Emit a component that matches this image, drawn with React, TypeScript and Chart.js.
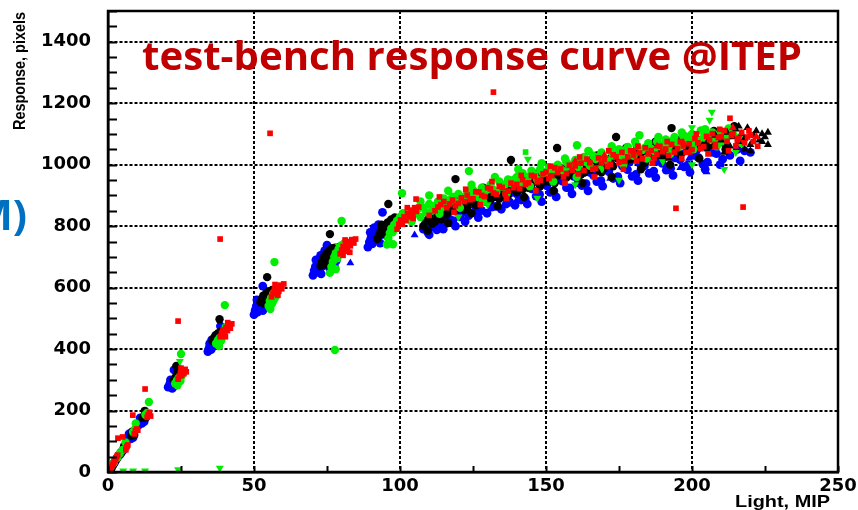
import React, { useEffect, useRef } from "react";
import { Chart, registerables } from "chart.js";

Chart.register(...registerables);

type P = [number, number];

// ---------- data (Light [MIP], Response [pixels]) ----------
const blueCircles: P[] = [
  [0.5, 6], [1.0, 12], [1.5, 20], [1.8, 25], [2.3, 32], [2.6, 38], [3.0, 44], [3.4, 50], [3.8, 54], [4.2, 58], [4.5, 64], [4.8, 66], [5.1, 70], [5.4, 74], [5.7, 80], [6.0, 82],
  [6.6, 104], [7.0, 110], [7.4, 116], [7.8, 108], [8.2, 120], [8.6, 112], [7.2, 124], [8.0, 128],
  [10.4, 152], [10.8, 160], [11.2, 168], [11.6, 158], [12.0, 172], [12.4, 164], [11.0, 176], [12.8, 176],
  [20.6, 276], [21.0, 282], [21.3, 290], [21.6, 278], [21.9, 294], [22.2, 286], [22.5, 298], [22.8, 281], [23.1, 292], [22.0, 272], [21.4, 300], [23.4, 302], [22.6, 332],
  [34.2, 392], [34.6, 402], [35.0, 412], [35.3, 398], [35.7, 420], [36.0, 408], [36.3, 428], [36.6, 415], [36.9, 432], [37.2, 420], [37.5, 440], [35.5, 430], [34.8, 418], [37.7, 412], [37.0, 445], [38.5, 475],
  [50.0, 512], [50.4, 526], [50.8, 540], [51.2, 520], [51.6, 548], [52.0, 532], [52.4, 558], [52.8, 540], [53.2, 566], [53.6, 548], [54.0, 572], [54.4, 556], [54.8, 575], [55.3, 562], [56.0, 570], [51.0, 560], [53.0, 525], [53.0, 605], [55.5, 545],
  [70.2, 640], [70.6, 655], [71.0, 668], [71.5, 650], [72.0, 675], [72.5, 660], [73.0, 690], [73.5, 670], [74.0, 698], [74.5, 680], [75.0, 700], [75.5, 685], [76.0, 695], [76.5, 678], [77.0, 690], [77.5, 672], [78.2, 688], [71.2, 690], [72.8, 705], [74.2, 720], [75.0, 738], [73.0, 645], [76.0, 662],
  [89.0, 732], [89.5, 748], [90.0, 760], [90.5, 742], [91.0, 770], [91.5, 755], [92.0, 782], [92.5, 765], [93.0, 790], [93.5, 772], [94.0, 795], [94.5, 778], [95.0, 790], [95.5, 770], [89.8, 780], [91.2, 795], [92.6, 805], [94.0, 845], [93.2, 745], [96.2, 785],
  [108, 790], [108.5, 805], [109, 812], [109.5, 780], [110, 772], [110.5, 795], [110.5, 812], [111, 801], [111.5, 820], [112, 826], [112.3, 845], [112.6, 788], [113, 840], [113.5, 815], [114, 800], [114.5, 842], [114.8, 790], [115.2, 806], [115.8, 858], [116.3, 831], [116.9, 815], [117.4, 852], [117.7, 870], [118.1, 818], [118.8, 866], [119.0, 800], [119.6, 846], [120.5, 830], [121.2, 872], [121.8, 861], [122.3, 815], [122.6, 845], [123.5, 834], [124.4, 875], [124.9, 890], [125.7, 866], [126.5, 850], [126.8, 828], [127.9, 851], [129.2, 885], [129.8, 842], [130.6, 879], [131.4, 862], [131.9, 896], [132.8, 864],
  [134.0, 898], [134.7, 855], [135.3, 896], [136.4, 872], [136.9, 920], [137.6, 878], [138.7, 910], [139.4, 868], [140.2, 904], [141.5, 885], [141.9, 930], [142.9, 889], [143.6, 872], [144.0, 925], [145.1, 921], [146.0, 945], [146.6, 898], [147.8, 903], [148.5, 880], [149.0, 940], [150.3, 931], [150.8, 955], [151.4, 910], [152.7, 914], [153.5, 895], [154.1, 955], [155.6, 946], [156.7, 968], [157.0, 925], [158.2, 924], [158.9, 905], [159.5, 962], [160.9, 953], [161.6, 980], [162.3, 932], [163.7, 938], [164.4, 915], [165.0, 975], [166.2, 966], [167.0, 990], [167.4, 945], [168.8, 948], [169.4, 930],
  [170.1, 985], [171.5, 977], [172.3, 1002], [173.0, 955], [174.6, 961], [175.4, 940], [176.2, 995], [177.9, 984], [178.7, 1010], [179.5, 962], [180.8, 968], [181.5, 948], [182.2, 1003], [183.7, 996], [184.4, 1020], [185.3, 972], [186.9, 979], [187.6, 958], [188.4, 1012], [189.8, 1004], [190.5, 1030], [191.2, 982], [192.7, 988], [193.5, 965], [194.3, 1022], [195.9, 1016], [196.6, 1040], [197.3, 993], [198.6, 999], [199.3, 975], [200.4, 1030], [201.6, 1048], [202.1, 1024], [203.7, 1002], [204.5, 985], [205.3, 1008], [206.5, 1055], [207.0, 1040], [208.4, 1036], [209.6, 1000], [210.5, 1018], [212, 1060], [213, 1030], [215.5, 1050], [216.5, 1012], [218, 1045], [220, 1040],
];

const blueTriangles: P[] = [
  [83, 680], [105, 771], [118, 820], [128.4, 845], [140, 885], [152, 907], [160, 935], [172, 955],
  [180, 965], [186, 975], [196, 990], [205, 976], [199, 1020],
];

const redSquares: P[] = [
  [0.4, 4], [0.7, 10], [0.9, 14], [1.2, 18], [1.5, 22], [1.8, 28], [2.1, 33], [2.4, 38], [2.7, 44], [3.0, 50], [3.3, 55], [6.3, 79], [6.5, 84], [6.8, 88], [6.1, 72], [3.4, 110], [5.0, 114],
  [9.0, 124], [9.4, 134], [9.8, 140], [10.2, 136], [8.5, 185],
  [13.4, 178], [13.8, 186], [14.2, 194], [14.6, 182], [12.7, 270],
  [24.0, 302], [24.4, 312], [24.8, 322], [25.2, 314], [25.6, 328], [26.0, 320], [26.4, 334], [26.8, 326], [25.0, 338], [24.0, 491],
  [38.4, 440], [38.9, 452], [39.4, 462], [39.9, 450], [40.4, 470], [40.9, 460], [41.4, 478], [41.9, 468], [42.4, 482], [40.2, 440], [41.0, 486], [38.4, 758],
  [56.0, 570], [56.5, 582], [57.0, 594], [57.5, 580], [58.0, 600], [58.5, 588], [59.0, 608], [59.5, 596], [60.2, 612], [58.2, 575], [57.2, 610], [55.5, 1102],
  [79.5, 710], [80.0, 722], [80.5, 734], [81.0, 718], [81.5, 740], [82.0, 728], [82.5, 750], [83.0, 736], [83.5, 756], [84.2, 745], [84.8, 758], [81.2, 755], [82.8, 715], [80.5, 705],
  [99.0, 790], [99.6, 806], [100.2, 820], [100.8, 806], [101.4, 830], [102.0, 818], [102.6, 842], [103.2, 830], [103.8, 852], [104.4, 840], [105.0, 860], [105.6, 848], [106.4, 862], [102.5, 860], [104.5, 825], [105.5, 888],
  [110, 835], [112, 850], [113, 862], [113.5, 895], [114, 870], [115, 880], [116, 860], [117, 872], [118, 885], [118.5, 845], [119, 866], [120, 874], [121, 892], [122, 880], [122.5, 920], [123, 901], [124, 886], [125, 889], [126, 912], [127, 911], [127.5, 870], [128, 900], [129, 896], [130, 925], [131, 921], [131.5, 945], [132, 908], [133, 904], [132, 1236],
  [134, 930], [135, 926], [136, 906], [136.5, 890], [137, 914], [138, 940], [139, 925], [140, 936], [141, 922], [141.5, 965], [142, 951], [143, 936], [144, 941], [145, 965], [146, 962], [146.5, 915], [147, 944], [148, 949], [149, 970], [150, 976], [151, 955], [151.5, 995], [152, 964], [153, 990], [154, 975], [155, 986], [156, 960], [156.5, 940], [157, 971], [158, 998], [159, 982], [160, 996], [161, 970], [161.5, 1025], [162, 1005], [163, 981], [164, 1018], [165, 1006], [166, 985], [166.5, 960], [167, 989],
  [168, 1022], [169, 1005], [170, 1016], [171, 995], [171.5, 1045], [172, 1001], [173, 1032], [174, 1026], [175, 1008], [176, 1040], [176.5, 985], [177, 1011], [178, 1025], [179, 1045], [180, 1031], [181, 1012], [181.5, 1060], [182, 1038], [183, 1019], [184, 1055], [185, 1035], [186, 1046], [186.5, 1005], [187, 1022], [188, 1034], [189, 1060], [190, 1042], [191, 1051], [191.5, 1075], [192, 1030], [193, 1066], [194, 1041], [194.5, 858], [195, 1052], [196, 1075], [196.5, 1020], [197, 1061], [198, 1040], [199, 1068], [200, 1049],
  [201, 1085], [201.5, 1100], [202, 1071], [203, 1052], [204, 1059], [205, 1092], [205.5, 1035], [206, 1081], [207, 1101], [208, 1066], [209, 1088], [209.5, 1115], [210, 1091], [211, 1111], [212, 1076], [212.5, 1045], [213, 1151], [213.5, 1095], [214, 1101], [215, 1061], [215.5, 1080], [216, 1086], [217, 1105], [217.5, 862], [218, 1071], [219, 1090], [219.5, 1110], [220, 1096], [221, 1075], [222.5, 1060],
];

const redTriangles: P[] = [
  [160, 1012], [170, 1030], [180, 1045], [188, 1060], [197, 1072], [199, 1040], [208, 1056], [214, 1120], [222, 1091],
];

const blackCircles: P[] = [
  [1.2, 12], [2.0, 27], [3.0, 42], [4.4, 62], [5.5, 84],
  [8.0, 118], [8.5, 126], [9.0, 120], [8.4, 132],
  [11.8, 176], [12.4, 182], [12.9, 178], [12.6, 199],
  [22.5, 300], [23.0, 306], [23.4, 312], [23.8, 302], [24.2, 318], [24.6, 308], [23.2, 295], [24.0, 326], [23.4, 345],
  [35.8, 426], [36.3, 436], [36.8, 444], [37.3, 432], [37.8, 452], [38.3, 440], [38.8, 458], [37.0, 424], [39.0, 447], [38.2, 497],
  [52.2, 552], [52.7, 564], [53.2, 574], [53.7, 560], [54.2, 582], [54.7, 570], [55.2, 588], [55.7, 576], [56.2, 592], [57.0, 584], [54.5, 634], [53.5, 548],
  [72.8, 670], [73.3, 684], [73.8, 698], [74.3, 690], [74.8, 710], [75.3, 700], [75.8, 720], [76.3, 708], [76.8, 728], [77.3, 715], [77.8, 730], [78.5, 722], [79.2, 732], [76.0, 774], [74.5, 675], [77.0, 700],
  [92.2, 758], [92.8, 770], [93.4, 784], [94.0, 776], [94.6, 800], [95.2, 790], [95.8, 812], [96.4, 800], [97.0, 822], [97.6, 810], [98.2, 828], [98.8, 815], [96.0, 872], [93.7, 805], [95.5, 768],
  [108, 800], [109, 818], [109.5, 785], [110, 830], [111, 808], [112, 815], [112.5, 860], [113, 835], [114, 822], [115, 846], [116, 838], [116.5, 810], [117, 865], [118, 850], [119, 953], [120, 858], [120.5, 895], [121, 871], [122, 852], [123, 860], [124, 880], [124.5, 842], [125, 886], [126, 868], [127, 874], [128, 892], [128.5, 925], [129, 880], [130, 896], [131, 884], [132, 906], [133, 895], [133.5, 865], [134, 889], [135, 912], [136, 916], [137, 900], [137.5, 948], [138, 1015], [138.5, 925], [139, 921], [140, 910],
  [141, 936], [142, 920], [142.5, 895], [143, 945], [144, 926], [145, 938], [146, 955], [147, 946], [147.5, 975], [148, 930], [149, 961], [150, 950], [151, 970], [152, 951], [152.5, 915], [153, 940], [153.8, 1054], [154, 965], [155, 971], [156, 985], [157, 958], [157.5, 1000], [158, 966], [159, 978], [160, 992], [161, 986], [162, 968], [162.5, 940], [163, 974], [164, 995], [165, 984], [166, 1001], [167, 1012], [167.5, 1030], [168, 989], [169, 975], [170, 1000],
  [171, 1011], [172, 1020], [172.5, 960], [173, 995], [174, 1090], [174.5, 1021], [175, 1035], [176, 1012], [177, 1006], [177.5, 1055], [178, 1028], [179, 1018], [180, 1036], [181, 1045], [182, 1019], [182.5, 985], [183, 1032], [184, 1008], [185, 1046], [186, 1030], [187, 1055], [187.5, 1075], [188, 1031], [189, 1042], [190, 1020], [191, 1056], [192, 1044], [192.5, 1000], [193, 1119], [194, 1060], [195, 1044], [196, 1032], [197, 1070], [197.5, 1092], [198, 1066], [199, 1050], [200, 1062],
  [201, 1054], [202, 1080], [202.5, 1020], [203, 1065], [204, 1076], [205, 1055], [206, 1090], [207, 1064], [207.5, 1110], [208, 1075], [209, 1098], [210, 1086], [211, 1070], [211.5, 1050], [212, 1092], [214.5, 1125],
];

const blackSquares: P[] = [
  [117, 880], [125, 900], [140, 930], [145, 955], [155, 990], [160, 1001], [165, 1015], [170, 985],
  [178, 1040], [185, 1030], [190, 1065], [196, 1085], [200, 1080],
];

const blackTriangles: P[] = [
  [150, 940], [168, 975], [183, 1000], [192, 1020],
  [205, 1070], [208, 1095], [210, 1080], [211, 1040], [212, 1105], [213, 1060], [214, 1090], [215, 1115], [216, 1075],
  [216, 1125], [217, 1100], [218, 1085], [218, 1050], [219, 1120], [220, 1065], [220, 1045], [221, 1095], [222, 1110],
  [223, 1080], [224, 1100], [224, 1075], [225, 1090], [226, 1105], [226, 1065],
];

const greenCircles: P[] = [
  [1.0, 18], [2.0, 30], [3.2, 46], [4.0, 60], [5.0, 72], [6.0, 96],
  [8.6, 130], [9.3, 140], [9.5, 158],
  [12.8, 186], [13.4, 192], [14.0, 228],
  [23.0, 288], [23.6, 298], [24.2, 306], [24.8, 296], [25.2, 312], [23.8, 282], [25.0, 384],
  [37.0, 418], [37.6, 428], [38.2, 436], [38.8, 428], [39.2, 444], [39.6, 454], [38.0, 410], [40.3, 471], [40.0, 543],
  [55.0, 540], [55.4, 556], [55.8, 566], [56.2, 548], [56.6, 580], [57.0, 570], [57.4, 590], [55.6, 530], [57.0, 683],
  [76.0, 648], [76.5, 668], [77.0, 684], [77.5, 700], [78.0, 712], [78.5, 695], [79.0, 726], [79.5, 710], [80.0, 738], [80.5, 724], [81.0, 745], [78.0, 660], [80.0, 817], [77.7, 397],
  [95.5, 740], [96.0, 760], [96.5, 778], [97.0, 792], [97.5, 780], [98.0, 805], [98.5, 795], [99.0, 818], [99.5, 808], [100.0, 830], [100.5, 820], [101.0, 842], [97.6, 741], [100.7, 907],
  [104, 815], [105, 840], [106, 855], [107, 830], [107, 880], [108, 860], [109, 845], [110, 872], [110, 900], [111, 851], [112, 866], [113, 880], [113.5, 840], [114, 858], [115, 890], [116, 870], [116.5, 915], [117, 884], [118, 896], [119, 878], [120, 905], [120.5, 860], [121, 884], [122, 895], [123, 912], [123.6, 979], [124, 905], [124.5, 935], [125, 918], [126, 900], [127, 894], [128, 925], [128.5, 880], [129, 912], [130, 921], [131, 935], [132, 918], [132.5, 960], [133, 911], [134, 945],
  [135, 930], [136, 936], [136.5, 905], [137, 952], [138, 940], [139, 951], [140, 960], [140.5, 985], [141, 939], [142, 972], [143, 955], [144, 961], [144.5, 930], [145, 980], [146, 968], [147, 951], [148, 985], [148.5, 1005], [149, 972], [150, 976], [151, 992], [152, 980], [152.5, 945], [153, 991], [154, 1000], [155, 985], [156, 979], [156.5, 1020], [157, 1008], [158, 995], [159, 1001], [160, 1015], [160.5, 960], [160.6, 1063], [161, 992], [162, 1011], [163, 1025], [164, 1008], [164.5, 1045], [165, 996],
  [166, 1030], [167, 1018], [168, 1026], [168.5, 985], [169, 1040], [170, 1022], [171, 1014], [172, 1045], [172.5, 1060], [173, 1030], [174, 1036], [175, 1050], [176, 1028], [176.5, 1000], [177, 1046], [178, 1058], [179, 1040], [180, 1029], [180.5, 1075], [181, 1062], [182, 1096], [183, 1048], [184, 1056], [184.5, 1020], [185, 1070], [186, 1052], [187, 1044], [188, 1075], [188.5, 1090], [189, 1060], [190, 1066], [191, 1082], [192, 1058], [192.5, 1035], [193, 1076], [194, 1090], [195, 1070],
  [196, 1059], [196.5, 1105], [197, 1092], [198, 1078], [199, 1086], [200, 1100], [200.5, 1050], [201, 1072], [202, 1079], [203, 1111], [204, 1088], [204.5, 1115], [205, 1096], [206, 1080], [207, 1105], [208, 1084], [208.5, 1060], [209, 1098], [210, 1075], [211, 1106], [212, 1090], [212.5, 1118], [214, 1100], [216, 1088], [217, 1070],
];

const greenDownTriangles: P[] = [
  [5.2, 4], [8.6, 4], [12.7, 4], [24.0, 8], [38.3, 13], [24.6, 360], [57.5, 560], [79, 735],
  [120, 830], [130, 870], [143.8, 1018], [147, 891], [160, 935], [175, 950], [190, 1010], [200, 1000],
  [200, 1121], [206, 1145], [206.8, 1171], [211, 985], [215, 1040],
];

const greenSquares: P[] = [
  [135, 925], [143, 1041], [165, 1040], [185, 1070], [198, 1095],
];

const xMin = 0, xMax = 250, xStep = 25, xLabelEvery = 50;
const yMin = 0, yMax = 1500, yStep = 50, yLabelEvery = 200;

const chartTitle = "test-bench response curve @ITEP";
const sideFragment = "M)";
const xTitle = "Light, MIP";
const yTitle = "Response, pixels";

const toXY = (pts: P[]) => pts.map(([x, y]) => ({ x, y }));

function fitText(ctx: CanvasRenderingContext2D, text: string, width: number) {
  const w = ctx.measureText(text).width;
  ctx.scale(width / w, 1);
}

const overlayPlugin = {
  id: "overlay",
  afterDraw(chart: any) {
    const { ctx, chartArea: a, scales } = chart;
    ctx.save();
    // inward ticks (ROOT style)
    ctx.strokeStyle = "#000";
    ctx.lineWidth = 2;
    ctx.beginPath();
    for (const t of scales.y.ticks) {
      const py = Math.round(scales.y.getPixelForValue(t.value)) + 0.5;
      ctx.moveTo(a.left, py);
      ctx.lineTo(a.left + 9, py);
    }
    for (const t of scales.x.ticks) {
      const px = Math.round(scales.x.getPixelForValue(t.value)) + 0.5;
      ctx.moveTo(px, a.bottom);
      ctx.lineTo(px, a.bottom - 6);
    }
    ctx.stroke();
    // frame
    ctx.lineWidth = 2.5;
    ctx.strokeRect(a.left, a.top, a.right - a.left, a.bottom - a.top);

    // axis titles
    ctx.fillStyle = "#000";
    ctx.textBaseline = "alphabetic";
    ctx.font = "bold 17px 'Liberation Sans'";
    ctx.save();
    ctx.translate(830, 507);
    ctx.textAlign = "right";
    fitText(ctx, xTitle, 95);
    ctx.fillText(xTitle, 0, 0);
    ctx.restore();

    ctx.font = "bold 16.5px 'Liberation Sans'";
    ctx.save();
    ctx.translate(25, 12);
    ctx.rotate(-Math.PI / 2);
    ctx.textAlign = "right";
    fitText(ctx, yTitle, 118);
    ctx.fillText(yTitle, 0, 0);
    ctx.restore();

    // red title
    ctx.font = "bold 40px 'Open Sans'";
    ctx.fillStyle = "#C00000";
    ctx.textAlign = "left";
    ctx.save();
    ctx.translate(142, 70);
    fitText(ctx, chartTitle, 660);
    ctx.fillText(chartTitle, 0, 0);
    ctx.restore();

    // cut-off slide text fragment
    ctx.font = "bold 42px 'Open Sans'";
    ctx.fillStyle = "#0070C0";
    ctx.textAlign = "right";
    ctx.fillText(sideFragment, 27, 230);
    ctx.restore();
  },
};

export default function App() {
  const ref = useRef<HTMLCanvasElement | null>(null);

  useEffect(() => {
    if (!ref.current) return;
    const mk = (label: string, pts: P[], color: string, style: string, radius: number, rotation = 0) => ({
      label,
      data: toXY(pts),
      backgroundColor: color,
      borderColor: color,
      borderWidth: 0,
      pointStyle: style,
      pointRadius: radius,
      pointRotation: rotation,
      showLine: false,
    });
    const tickFont = { family: "'DejaVu Sans'", weight: "bold" as const, size: 18 };
    const green = "#00ee00";
    const chart = new Chart(ref.current, {
      type: "scatter",
      data: {
        datasets: [
          mk("red squares", redSquares, "#ff0000", "rect", 4.0),
          mk("red triangles", redTriangles, "#ff0000", "triangle", 4.6),
          mk("black triangles", blackTriangles, "#000000", "triangle", 4.6),
          mk("green down", greenDownTriangles, green, "triangle", 4.6, 180),
          mk("green squares", greenSquares, green, "rect", 4.0),
          mk("green circles", greenCircles, green, "circle", 4.2),
          mk("black squares", blackSquares, "#000000", "rect", 4.0),
          mk("black circles", blackCircles, "#000000", "circle", 4.2),
          mk("blue triangles", blueTriangles, "#0000ff", "triangle", 4.6),
          mk("blue circles", blueCircles, "#0000ff", "circle", 4.4),
        ],
      },
      options: {
        animation: false,
        responsive: false,
        devicePixelRatio: 1,
        layout: { padding: { left: 0, right: 20, top: 11, bottom: 0 } },
        plugins: { legend: { display: false }, tooltip: { enabled: false } },
        scales: {
          x: {
            type: "linear",
            min: xMin,
            max: xMax,
            afterFit: (s: any) => {
              s.height = 38;
              s.paddingLeft = 0; s.paddingRight = 0; s.paddingTop = 0; s.paddingBottom = 0;
            },
            border: { display: true, color: "#000", width: 2.5, dash: [3, 2] },
            grid: {
              drawTicks: false,
              lineWidth: 2,
              color: (c: any) => (c.tick && c.tick.value % xLabelEvery === 0 && c.tick.value !== xMin && c.tick.value !== xMax ? "#000" : "rgba(0,0,0,0)"),
            },
            ticks: {
              stepSize: xStep,
              autoSkip: false,
              maxRotation: 0,
              padding: 4,
              color: "#000",
              font: tickFont,
              callback: (v: any) => (Number(v) % xLabelEvery === 0 ? String(v) : ""),
            },
            title: { display: false, text: xTitle },
          },
          y: {
            type: "linear",
            min: yMin,
            max: yMax,
            afterFit: (s: any) => {
              s.width = 108;
              s.paddingLeft = 0; s.paddingRight = 0; s.paddingTop = 0; s.paddingBottom = 0;
            },
            border: { display: true, color: "#000", width: 2.5, dash: [3, 2] },
            grid: {
              drawTicks: false,
              lineWidth: 2,
              color: (c: any) => (c.tick && c.tick.value % yLabelEvery === 0 && c.tick.value !== yMin ? "#000" : "rgba(0,0,0,0)"),
            },
            ticks: {
              stepSize: yStep,
              autoSkip: false,
              padding: 17,
              color: "#000",
              font: tickFont,
              callback: (v: any) => (Number(v) % yLabelEvery === 0 ? String(v) : ""),
            },
            title: { display: false, text: yTitle },
          },
        },
      },
      plugins: [overlayPlugin],
    } as any);
    return () => chart.destroy();
  }, []);

  return (
    <div style={{ position: "fixed", left: 0, top: 0, width: 858, height: 510, background: "#fff" }}>
      <canvas ref={ref} width={858} height={510} style={{ display: "block" }} />
    </div>
  );
}
